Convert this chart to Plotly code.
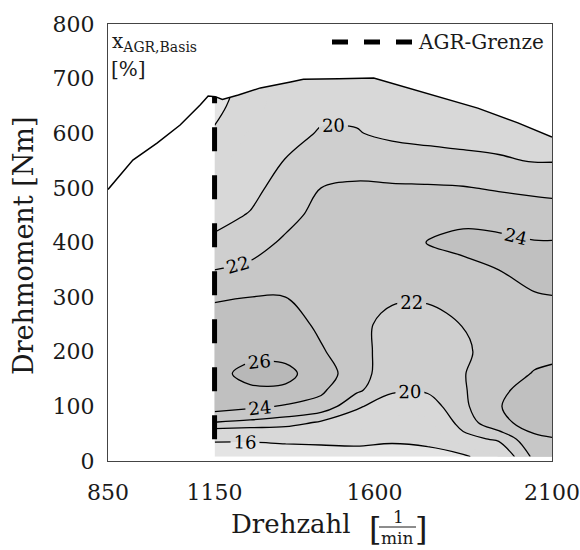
import numpy as np
import plotly.graph_objects as go

# ---------------- data ----------------
rpm = [1150, 1250, 1350, 1450, 1550, 1650, 1750, 1850, 1950, 2050, 2100]
torque = [8, 40, 70, 100, 130, 160, 200, 250, 300, 350, 400, 450, 500, 550, 600, 650, 700]

# x_AGR,Basis [%] per speed column (values along torque)
xagr_1150 = [13.0, 16.6, 21.9, 25.0, 25.4, 25.6, 25.4, 24.8, 23.8, 22.0, 20.3, 19.5, 18.5, 17.3, 16.2, 15.5, 15.0]
xagr_1250 = [13.5, 16.5, 21.5, 24.4, 25.8, 26.4, 25.6, 24.9, 24.0, 22.4, 21.2, 20.1, 19.5, 19.0, 18.2, 17.0, 16.6]
xagr_1350 = [13.8, 16.8, 21.0, 23.8, 25.7, 26.5, 25.4, 24.9, 24.0, 23.0, 22.3, 21.4, 20.7, 20.05, 19.6, 19.3, 19.1]
xagr_1450 = [14.0, 17.0, 19.6, 23.4, 24.3, 25.0, 24.2, 23.6, 23.3, 23.1, 22.9, 22.6, 22.0, 21.2, 20.1, 19.7, 19.5]
xagr_1550 = [14.2, 17.2, 18.8, 20.3, 22.4, 22.9, 22.8, 22.6, 22.8, 23.0, 22.9, 22.6, 22.2, 21.4, 20.1, 19.6, 19.4]
xagr_1650 = [14.5, 16.5, 17.5, 18.8, 20.3, 20.8, 21.0, 21.3, 22.3, 22.9, 23.0, 22.7, 22.2, 21.0, 19.6, 19.2, 19.0]
xagr_1750 = [15.2, 16.6, 17.6, 18.9, 20.3, 20.8, 21.0, 21.4, 22.2, 23.0, 24.05, 23.3, 22.2, 20.6, 19.5, 19.0, 18.8]
xagr_1850 = [15.5, 19.3, 20.8, 21.6, 21.8, 21.9, 21.7, 22.05, 22.8, 23.5, 24.5, 23.5, 22.1, 20.4, 19.4, 19.0, 18.8]
xagr_1950 = [18.0, 20.3, 23.6, 23.9, 23.6, 23.2, 22.8, 22.8, 23.3, 24.0, 24.4, 23.3, 21.8, 20.2, 19.3, 19.0, 18.8]
xagr_2050 = [22.5, 23.7, 24.6, 25.0, 24.8, 24.1, 23.5, 23.3, 23.85, 24.6, 24.1, 22.9, 21.6, 19.9, 19.3, 19.0, 18.8]
xagr_2100 = [22.8, 23.9, 24.8, 25.2, 24.9, 24.3, 23.6, 23.4, 23.95, 24.7, 24.1, 22.8, 21.5, 19.9, 19.3, 19.0, 18.8]

# full-load curve
fl_rpm = [850, 920, 988, 1053, 1110, 1132, 1152, 1172, 1217, 1279, 1364, 1400, 1500, 1598, 1891, 2004, 2100]
fl_torque = [497, 551, 582, 615, 652, 668, 667, 662, 670, 683, 694, 699, 700, 701, 646, 619, 593]

# AGR limit
agr_rpm = 1150
agr_torque = [40, 667]

x_ticks = [850, 1150, 1600, 2100]
y_ticks = [0, 100, 200, 300, 400, 500, 600, 700, 800]

# --------------- figure ---------------
z = np.array([xagr_1150, xagr_1250, xagr_1350, xagr_1450, xagr_1550, xagr_1650,
              xagr_1750, xagr_1850, xagr_1950, xagr_2050, xagr_2100]).T

FONT = "DejaVu Serif"
TXT = "#1a1a1a"

band_colors = ["#e4e4e4", "#d8d8d8", "#d8d8d8", "#cfcfcf", "#c7c7c7", "#c0c0c0", "#b8b8b8"]
cscale = [[i / 6, c] for i, c in enumerate(band_colors)]

fig = go.Figure()

# filled bands
fig.add_trace(go.Contour(
    x=rpm, y=torque, z=z, showscale=False, hoverinfo="skip",
    colorscale=cscale, autocontour=False,
    contours=dict(start=16, end=26, size=2, coloring="fill", showlines=False),
    line=dict(width=0, smoothing=1.0),
))
# contour lines with labels
for start, end in [(16, 16), (20, 26)]:
    fig.add_trace(go.Contour(
        x=rpm, y=torque, z=z, showscale=False, hoverinfo="skip",
        autocontour=False,
        contours=dict(start=start, end=end, size=2, coloring="none", showlines=True,
                      showlabels=True,
                      labelfont=dict(family=FONT, size=18, color="black")),
        line=dict(width=1.3, color="black", smoothing=1.0),
    ))

# white mask above full-load curve
fig.add_trace(go.Scatter(
    x=fl_rpm + [2100, 850], y=fl_torque + [800, 800],
    fill="toself", fillcolor="white", mode="none", hoverinfo="skip", showlegend=False,
))
# full-load line
fig.add_trace(go.Scatter(
    x=fl_rpm, y=fl_torque, mode="lines", line=dict(color="black", width=1.5),
    hoverinfo="skip", showlegend=False,
))
# AGR limit line
fig.add_trace(go.Scatter(
    x=[agr_rpm, agr_rpm], y=agr_torque, mode="lines", name="AGR-Grenze",
    line=dict(color="black", width=5, dash="24px,24px"),
    hoverinfo="skip", showlegend=False,
))

L, R, T, B = 108, 28, 24, 89
W, H = 580, 550
PW, PH = W - L - R, H - T - B


def px(xp):
    return (xp - L) / PW


def py(yp):
    return (H - B - yp) / PH


anns = [
    dict(text="x<sub>AGR,Basis</sub>", x=px(110), y=py(27), xanchor="left", yanchor="top",
         font=dict(family=FONT, size=20, color=TXT)),
    dict(text="[%]", x=px(109), y=py(69), xanchor="left", yanchor="middle",
         font=dict(family=FONT, size=20, color=TXT)),
    dict(text="AGR-Grenze", x=px(416), y=py(42), xanchor="left", yanchor="middle",
         font=dict(family=FONT, size=20, color=TXT)),
    dict(text="Drehmoment [Nm]", x=px(24), y=py(246), xanchor="center", yanchor="middle",
         textangle=-90, font=dict(family=FONT, size=27, color=TXT)),
    dict(text="Drehzahl", x=px(229), y=py(524), xanchor="left", yanchor="middle",
         font=dict(family=FONT, size=26, color=TXT)),
    dict(text="[", x=px(374.5), y=py(529), xanchor="center", yanchor="middle",
         font=dict(family=FONT, size=32, color=TXT)),
    dict(text="]", x=px(421), y=py(529), xanchor="center", yanchor="middle",
         font=dict(family=FONT, size=32, color=TXT)),
    dict(text="1", x=px(398), y=py(517), xanchor="center", yanchor="middle",
         font=dict(family=FONT, size=17, color=TXT)),
    dict(text="min", x=px(397.5), y=py(538), xanchor="center", yanchor="middle",
         font=dict(family=FONT, size=17, color=TXT)),
]
for a in anns:
    a.update(xref="paper", yref="paper", showarrow=False)

shapes = [
    dict(type="line", xref="paper", yref="paper", x0=px(332), x1=px(413), y0=py(42), y1=py(42),
         line=dict(color="black", width=5, dash="16px,16px")),
    dict(type="line", xref="paper", yref="paper", x0=px(379), x1=px(416), y0=py(527), y1=py(527),
         line=dict(color=TXT, width=1)),
]

axis_common = dict(showgrid=False, zeroline=False, showline=True, mirror=True,
                   linecolor="#444444", linewidth=1, ticks="", automargin=False,
                   tickfont=dict(family=FONT, size=22, color=TXT))

fig.update_layout(
    width=W, height=H, margin=dict(l=L, r=R, t=T, b=B),
    paper_bgcolor="white", plot_bgcolor="white", showlegend=False,
    xaxis=dict(range=[850, 2100], tickvals=x_ticks, ticklabelstandoff=12, **axis_common),
    yaxis=dict(range=[0, 800], tickvals=y_ticks, ticklabelstandoff=8, **axis_common),
    annotations=anns, shapes=shapes,
)

fig.write_html("out.html")
